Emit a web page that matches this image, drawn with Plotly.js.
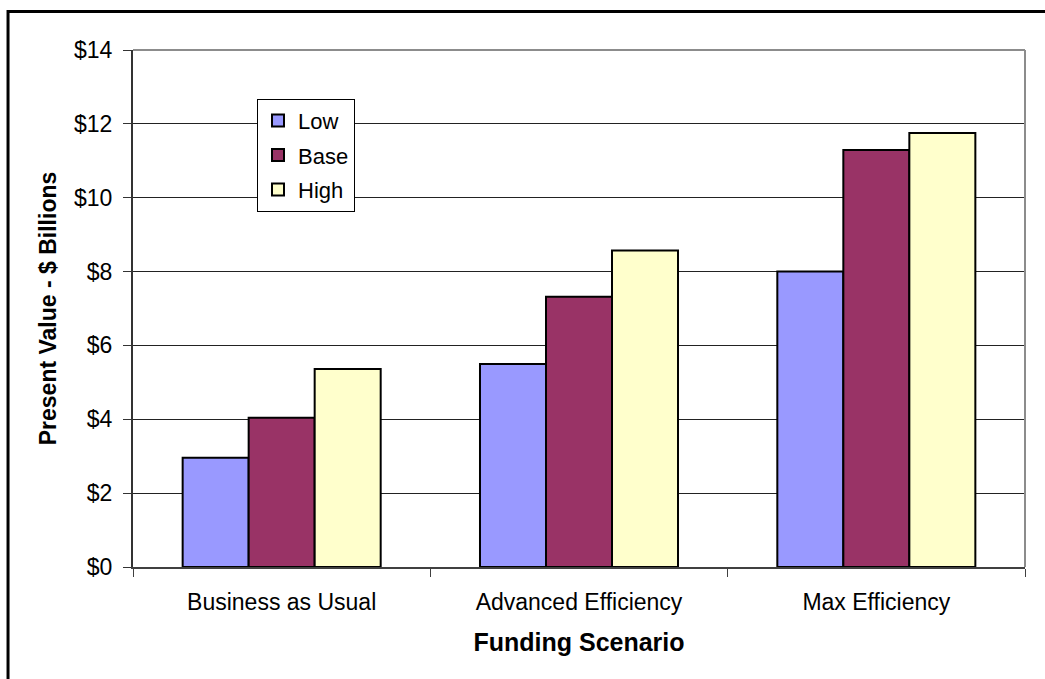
<!DOCTYPE html>
<html>
<head>
<meta charset="utf-8">
<script src="https://cdn.plot.ly/plotly-3.0.1.min.js"></script>
<style>
  html, body { margin: 0; padding: 0; background: #fff; }
  #chart { width: 1045px; height: 679px; }
</style>
</head>
<body>
<div id="chart"></div>
<script>
const categories = ["Business as Usual", "Advanced Efficiency", "Max Efficiency"];
const lowValues = [2.96, 5.50, 8.00];
const baseValues = [4.04, 7.32, 11.29];
const highValues = [5.36, 8.57, 11.75];
const seriesNames = ["Low", "Base", "High"];
const seriesColors = ["#9999FF", "#993366", "#FFFFCC"];
const yTickVals = [0, 2, 4, 6, 8, 10, 12, 14];
const yTickText = ["$0", "$2", "$4", "$6", "$8", "$10", "$12", "$14"];

const seriesValues = [lowValues, baseValues, highValues];
const traces = seriesValues.map((vals, i) => ({
  type: "bar",
  name: seriesNames[i],
  x: categories,
  y: vals,
  legendgroup: seriesNames[i],
  marker: { color: seriesColors[i], line: { color: "#000000", width: 2 } },
  hoverinfo: "x+y+name"
}));

const FONT = "Liberation Sans, Arial, Helvetica, sans-serif";

const layout = {
  width: 1045,
  height: 679,
  margin: { l: 133, r: 20, t: 50, b: 111.5 },
  paper_bgcolor: "#ffffff",
  plot_bgcolor: "#ffffff",
  font: { family: FONT, size: 23, color: "#000000" },
  barmode: "group",
  bargap: 0.334,
  bargroupgap: 0,
  showlegend: true,
  legend: {
    x: 0.139, y: 0.906, xanchor: "left", yanchor: "top",
    bgcolor: "#ffffff", bordercolor: "#000000", borderwidth: 1,
    font: { family: FONT, size: 22, color: "#000000" },
    traceorder: "grouped",
    tracegroupgap: 3,
    itemwidth: 30
  },
  xaxis: {
    type: "category",
    range: [-0.5, 2.5],
    showgrid: false,
    zeroline: false,
    showline: true,
    linecolor: "#404040",
    linewidth: 2,
    ticks: "outside",
    tickson: "boundaries",
    ticklen: 8,
    tickcolor: "#404040",
    tickwidth: 1,
    ticklabelstandoff: 13,
    tickfont: { family: FONT, size: 23, color: "#000000" },
    title: {
      text: "Funding Scenario",
      font: { family: FONT, size: 25, color: "#000000", weight: "bold" },
      standoff: 20
    },
    fixedrange: true
  },
  yaxis: {
    range: [0, 14],
    tickvals: yTickVals,
    ticktext: yTickText,
    showgrid: true,
    gridcolor: "#222222",
    gridwidth: 1,
    zeroline: false,
    showline: true,
    linecolor: "#333333",
    linewidth: 2,
    ticks: "outside",
    ticklen: 8,
    tickcolor: "#333333",
    tickwidth: 1,
    ticklabelstandoff: 6,
    tickfont: { family: FONT, size: 23, color: "#000000" },
    title: {
      text: "Present Value - $ Billions",
      font: { family: FONT, size: 23, color: "#000000", weight: "bold" },
      standoff: 11
    },
    fixedrange: true
  },
  shapes: [
    { type: "line", xref: "paper", yref: "paper", x0: 0, x1: 1, y0: 1, y1: 1,
      line: { color: "#8c8c8c", width: 2 } },
    { type: "line", xref: "paper", yref: "paper", x0: 1, x1: 1, y0: 0, y1: 1,
      line: { color: "#8c8c8c", width: 2 } },
    { type: "rect", xref: "paper", yref: "paper",
      x0: -0.1401, x1: 1.06, y0: -0.3, y1: 1.0744,
      line: { color: "#000000", width: 3 }, fillcolor: "rgba(0,0,0,0)" }
  ]
};

Plotly.newPlot("chart", traces, layout, { displayModeBar: false, staticPlot: true });
</script>
</body>
</html>
